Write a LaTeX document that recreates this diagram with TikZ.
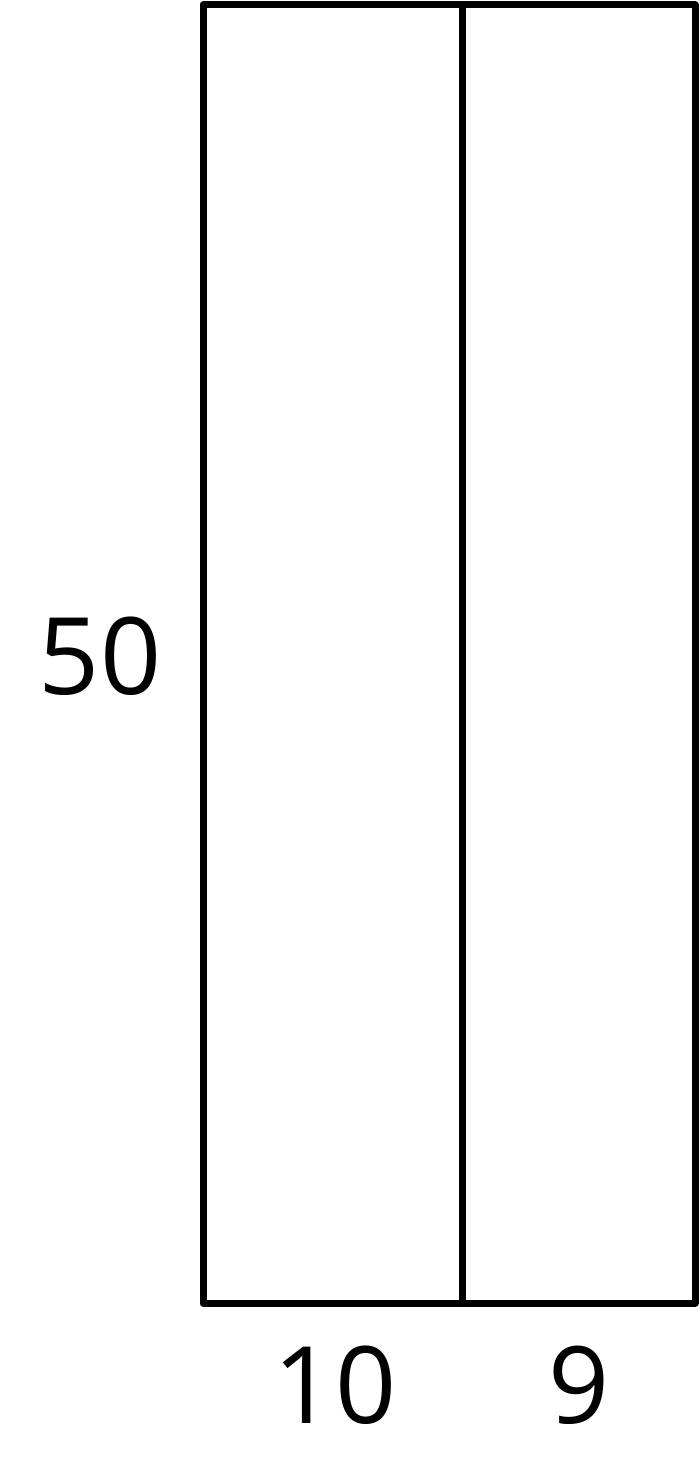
\documentclass[tikz,border=0pt]{standalone}
\usepackage{fontspec}
\setmainfont{Open Sans}
\tikzset{edge/.style={line width=7pt, line join=round, line cap=round},
 lab/.style={font=\fontsize{107}{115}\selectfont, inner sep=0pt, anchor=base}}
\begin{document}
\begin{tikzpicture}[x=1pt,y=-1pt]
\useasboundingbox (0,0) rectangle (700,1461);
\coordinate (tl) at (203,5);
\coordinate (br) at (695,1303);
\coordinate (mt) at (462,5);
\coordinate (mb) at (462,1303);
\draw[edge] (tl) rectangle (br);
\draw[edge] (mt) -- (mb);
\node[lab] (h) at (100,694) {50};
\node[lab] (a) at (335,1423) {10};
\node[lab] (b) at (579,1423) {9};
\end{tikzpicture}
\end{document}
